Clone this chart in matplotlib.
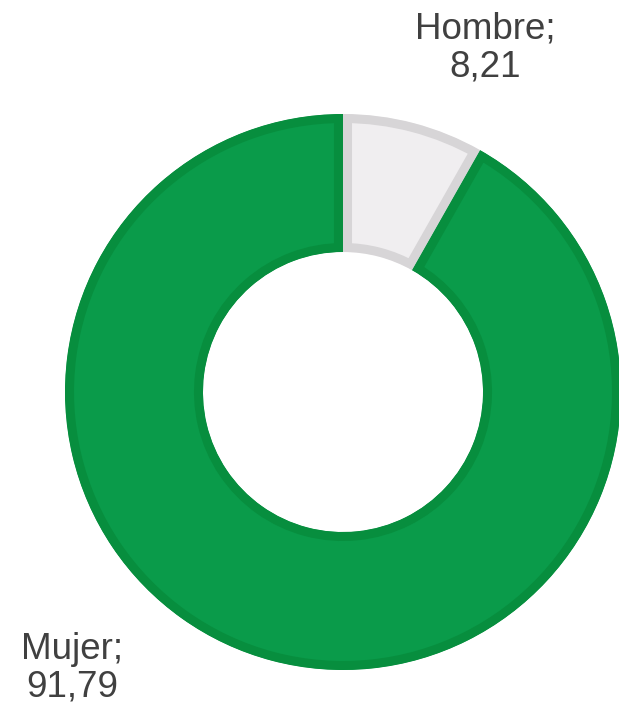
import matplotlib.pyplot as plt

# data
labels = ['Hombre', 'Mujer']
values = [8.21, 91.79]
colors = ['#F0EEF0', '#0A9B4A']
edges = ['#D7D5D7', '#078E3E']

W, H = 619, 713
fig = plt.figure(figsize=(W / 100, H / 100), dpi=100)
ax = fig.add_axes([0, 0, 1, 1])

cx, cy = 343, H - 392
R = 278
wedges, _ = ax.pie(values, colors=colors, startangle=90, counterclock=False,
                   center=(cx, cy), radius=R,
                   wedgeprops=dict(width=138, linewidth=13))
# border drawn only inside each slice
for w, ec in zip(wedges, edges):
    w.set_edgecolor(ec)
    w.set_clip_on(True)
    w.set_clip_path(w)

ax.set_xlim(0, W)
ax.set_ylim(0, H)
ax.set_aspect('equal')
ax.axis('off')

def fmt(v):
    return f"{v:.2f}".replace('.', ',')

# label positions (pixels from top-left)
pos = {'Hombre': (485, 48), 'Mujer': (72, 668)}
for lab, v in zip(labels, values):
    x, y = pos[lab]
    ax.text(x, H - y, f"{lab};\n{fmt(v)}", ha='center', va='center',
            fontsize=26.5, color='#404040', family='Liberation Sans',
            linespacing=1.1)

fig.savefig('out.png', dpi=100)
